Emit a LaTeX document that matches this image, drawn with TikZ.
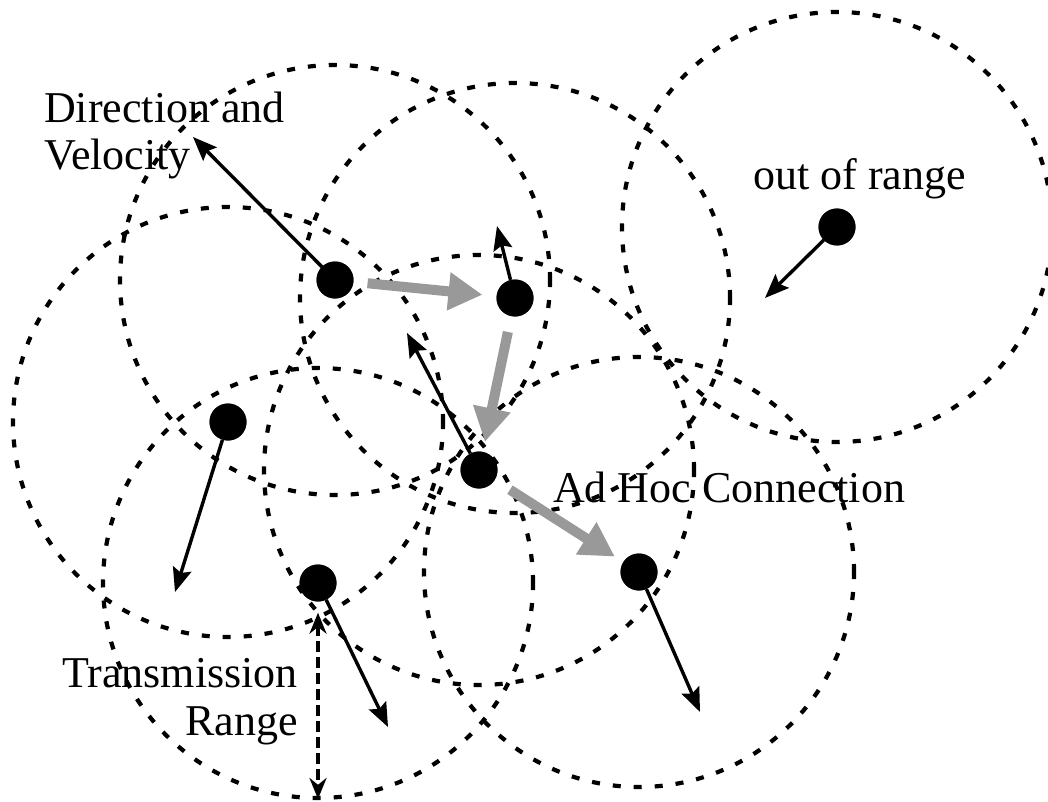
\documentclass[tikz,border=0pt]{standalone}
\usepackage{fontspec}
\setmainfont{Liberation Serif}
\usetikzlibrary{arrows.meta}
\definecolor{adhocgray}{HTML}{999999}
\tikzset{
  dot/.style={circle,fill=black,minimum size=37pt,inner sep=0pt},
  rangecircle/.style={line width=4.2pt,dash pattern=on 8pt off 13pt,black},
  velarrow/.style={line width=3.4pt,-{Stealth[length=24pt,width=19pt,inset=4pt]}},
  adhoc/.style={line width=10pt,adhocgray,-{Triangle[length=34pt,width=36pt]}},
  rangearrow/.style={line width=4.2pt,dash pattern=on 11pt off 5pt,{Stealth[length=21pt,width=17pt]}-{Stealth[length=21pt,width=17pt]}},
  lbl/.style={inner sep=0pt,font=\fontsize{44}{48}\selectfont}
}
\begin{document}
\begin{tikzpicture}[x=1pt,y=-1pt]
\fill[white] (0,0) rectangle (1048,802);
\useasboundingbox (0,0) rectangle (1048,802);
% nodes
\node[dot] (n1) at (335,280) {};
\node[dot] (n2) at (515,298) {};
\node[dot] (n3) at (228,422) {};
\node[dot] (n4) at (479,470) {};
\node[dot] (n5) at (318,583) {};
\node[dot] (n6) at (639,572) {};
\node[dot] (n7) at (837,227) {};
% transmission ranges
\foreach \n in {n1,n2,n3,n4,n5,n6,n7}
  \draw[rangecircle] (\n.center) circle[radius=215pt];
% velocity targets
\coordinate (t1) at (193,137);
\coordinate (t2) at (497,226);
\coordinate (t3) at (175,592);
\coordinate (t4) at (407,333);
\coordinate (t5) at (388,727);
\coordinate (t6) at (700,712);
\coordinate (t7) at (765,298);
\draw[velarrow] (n1) -- (t1);
\draw[velarrow] (n2) -- (t2);
\draw[velarrow] (n3) -- (t3);
\draw[velarrow] (n4) -- (t4);
\draw[velarrow] (n5) -- (t5);
\draw[velarrow] (n6) -- (t6);
\draw[velarrow] (n7) -- (t7);
% ad hoc connections
\draw[adhoc,shorten <=14pt,shorten >=14pt] (n1) -- (n2);
\draw[adhoc,shorten <=16pt,shorten >=10pt] (n2) -- (n4);
\draw[adhoc,shorten <=18pt,shorten >=10pt] (n4) -- (n6);
% transmission range arrow
\coordinate (rb) at (318,799);
\draw[rangearrow,shorten <=11pt] (n5) -- (rb);
% redraw nodes on top
\foreach \n in {n1,n2,n3,n4,n5,n6,n7}
  \fill (\n.center) circle[radius=18.5pt];
% labels
\node[lbl,anchor=base west] (ldir1) at (44,123) {Direction and};
\node[lbl,anchor=base west] (ldir2) at (44,170) {Velocity};
\node[lbl,anchor=base west] (lout) at (753,190) {out of range};
\node[lbl,anchor=base west] (ladhoc) at (553,502) {Ad Hoc Connection};
\node[lbl,anchor=base east] (ltr1) at (298,687) {Transmission};
\node[lbl,anchor=base east] (ltr2) at (298,735) {Range};
\end{tikzpicture}
\end{document}
